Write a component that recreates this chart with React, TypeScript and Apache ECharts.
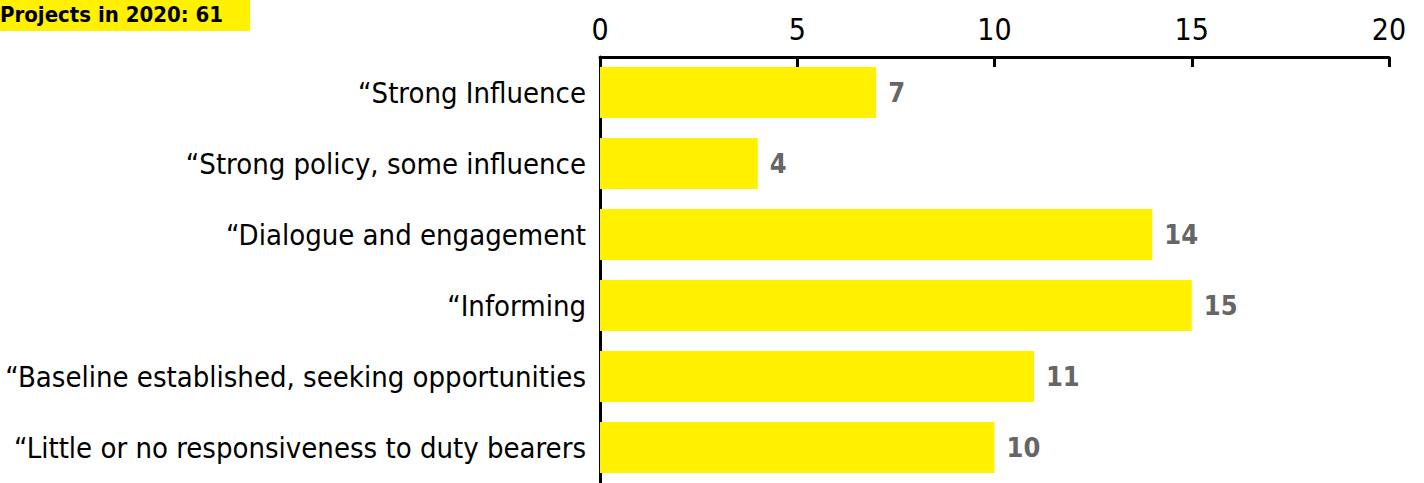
import React, { useEffect, useRef } from "react";
import * as echarts from "echarts";

const categories = [
  "“Strong Influence",
  "“Strong policy, some influence",
  "“Dialogue and engagement",
  "“Informing",
  "“Baseline established, seeking opportunities",
  "“Little or no responsiveness to duty bearers",
];
const values = [7, 4, 14, 15, 11, 10];
const xTicks = { min: 0, max: 20, interval: 5 };
const titleText = "Projects in 2020: 61";

const FONT = "'DejaVu Sans Condensed', 'Liberation Sans Narrow', sans-serif";
const YELLOW = "#FFF100";

export default function App() {
  const ref = useRef<HTMLDivElement>(null);
  useEffect(() => {
    document.body.style.margin = "0";
    const chart = echarts.init(ref.current!, null, { renderer: "svg" });
    chart.setOption({
      animation: false,
      textStyle: { fontFamily: FONT },
      graphic: [
        {
          type: "rect",
          left: 0,
          top: 0,
          shape: { width: 250, height: 31 },
          style: { fill: YELLOW },
        },
        {
          type: "text",
          left: 0,
          top: 3,
          style: {
            text: titleText,
            fontFamily: FONT,
            fontWeight: "bold",
            fontSize: 22,
            fill: "#000",
          },
        },
      ],
      grid: { left: 600, right: 35, top: 57, bottom: -6, containLabel: false },
      xAxis: {
        type: "value",
        position: "top",
        min: xTicks.min,
        max: xTicks.max,
        interval: xTicks.interval,
        splitLine: { show: false },
        axisLine: { show: true, lineStyle: { color: "#000", width: 3 } },
        axisTick: { show: true, inside: true, length: 10, lineStyle: { color: "#000", width: 3 } },
        axisLabel: { color: "#000", fontSize: 30, fontFamily: FONT, margin: 13 },
      },
      yAxis: {
        type: "category",
        data: categories,
        inverse: true,
        axisLine: { show: true, lineStyle: { color: "#000", width: 3 } },
        axisTick: { show: false },
        axisLabel: { color: "#000", fontSize: 29, fontFamily: FONT, margin: 14 },
      },
      series: [
        {
          type: "bar",
          data: values,
          barCategoryGap: "28%",
          itemStyle: { color: YELLOW },
          label: {
            show: true,
            position: "right",
            distance: 12,
            color: "#666",
            fontWeight: "bold",
            fontSize: 27,
            fontFamily: FONT,
          },
        },
      ],
    });
    return () => chart.dispose();
  }, []);
  return <div ref={ref} style={{ width: 1424, height: 483 }} />;
}
